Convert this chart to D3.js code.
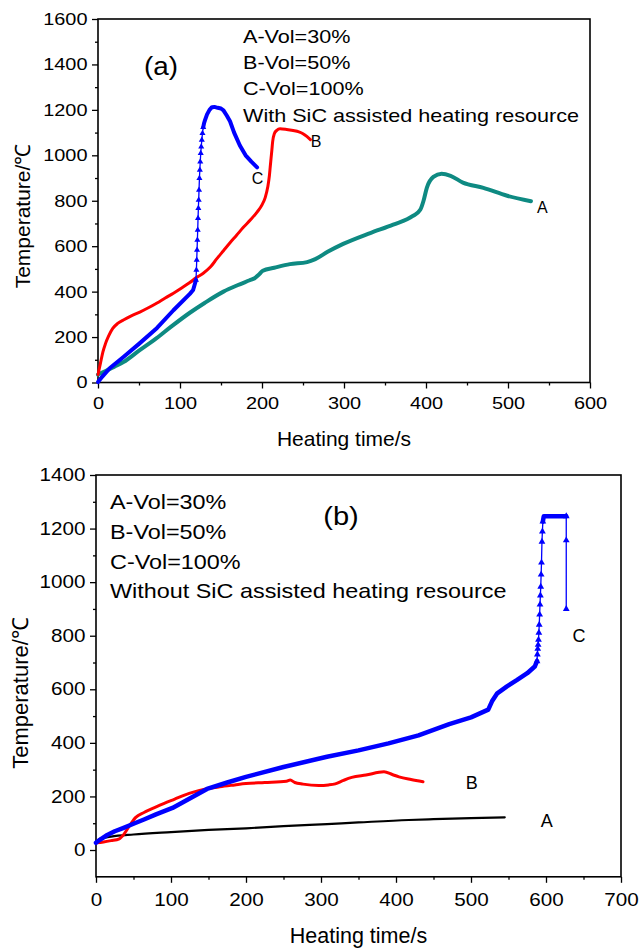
<!DOCTYPE html>
<html><head><meta charset="utf-8">
<script src="https://cdn.jsdelivr.net/npm/d3@7"></script>
<style>
body{margin:0;background:#fff}
svg text{font-family:"Liberation Sans",Arial,Helvetica,sans-serif;fill:#000}
</style>
</head><body>
<svg id="chart" width="641" height="950"></svg>
<script>
// ---------- data: panel (a) ----------
const aXTicks = [0,100,200,300,400,500,600];
const aYTicks = [0,200,400,600,800,1000,1200,1400,1600];
const aLegend = ["A-Vol=30%","B-Vol=50%","C-Vol=100%","With SiC assisted heating resource"];
const aSeriesA = [[0,35],[10,52],[20,70],[31,90],[50,140],[71,194],[90,248],[112,307],[130,350],[153,400],[170,428],[185,450],[191,459],[196,474],[201,492],[215,505],[234,521],[255,530],[265,543],[280,575],[299,610],[332,658],[360,695],[384,733],[393,760],[397,800],[401,857],[409,905],[419,919],[430,910],[445,880],[470,857],[499,822],[528,798]];
const aSeriesB = [[0,35],[3,85],[6,135],[9,170],[13,205],[18,238],[24,260],[31,275],[40,292],[51,310],[62,330],[72,350],[82,372],[92,393],[102,416],[112,440],[120,462],[128,480],[137,508],[145,545],[153,580],[161,615],[169,648],[177,682],[186,716],[194,750],[200,782],[204,815],[207,860],[209,910],[210,948],[211,985],[212,1022],[213,1060],[215,1095],[218,1110],[222,1117],[230,1114],[238,1109],[245,1103],[250,1095],[255,1082],[259,1069]];
const aSeriesC = [[0,2],[5,25],[14.6,64],[31,112],[50,170],[72,240],[92,318],[112,390],[116,407],[119.5,451],[120,495],[120.4,539],[120.8,583],[121.2,627],[121.6,671],[122,723],[122.4,767],[122.8,803],[123.2,847],[123.7,899],[124.2,935],[124.7,972],[125.3,1009],[125.9,1038],[126.6,1067],[127.4,1097],[128.3,1123],[129.3,1141],[130.5,1155],[133,1180],[136,1200],[139,1212],[142,1213],[146,1209],[150,1206],[153,1198],[157,1175],[161,1150],[166,1100],[173,1043],[180,1000],[187,972],[194,947]];

// ---------- data: panel (b) ----------
const bXTicks = [0,100,200,300,400,500,600,700];
const bYTicks = [0,200,400,600,800,1000,1200,1400];
const bLegend = ["A-Vol=30%","B-Vol=50%","C-Vol=100%","Without SiC assisted heating resource"];
const bSeriesA = [[5,42],[20,50],[50,58],[100,67],[150,75],[200,81],[250,89],[308,97],[350,103],[417,112],[450,115],[500,119],[545,122]];
const bSeriesB = [[0,27],[10,30],[20,35],[31,42],[38,62],[45,92],[53,122],[64,140],[78,158],[91,174],[105,190],[118,205],[131,217],[145,227],[165,236],[185,243],[200,248],[225,252],[254,257],[259,261],[265,252],[276,246],[297,241],[310,243],[319,247],[330,260],[341,271],[360,280],[384,292],[395,282],[404,273],[420,263],[436,255]];
const bSeriesC = [[0,27],[5,38],[15,56],[25,70],[36,82],[50,98],[64,114],[80,133],[102,157],[125,192],[148,228],[175,252],[200,273],[250,310],[308,348],[350,372],[390,398],[430,428],[471,470],[500,495],[523,524],[528,555],[535,585],[548,611],[561,634],[575,660],[585,685],[588,705],[588.5,730],[589,751],[589.5,766],[590,785],[590.5,811],[591,841],[591.5,879],[592,916],[592.5,950],[593,983],[593.5,1028],[594,1073],[594.6,1151],[595.2,1189],[595.8,1226],[597,1246],[627,1246],[627,1156],[627,900]];

const axisTitleX = "Heating time/s";
const axisTitleY = "Temperature/℃";

const svg = d3.select("#chart");

function stretchText(g, x, y, txt, size, sx, anchor) {
  return g.append("text")
    .attr("transform", `translate(${x},${y}) scale(${sx},1)`)
    .attr("font-size", size)
    .attr("text-anchor", anchor || "start")
    .text(txt);
}

function drawPanel(cfg) {
  const g = svg.append("g");
  const x = d3.scaleLinear().domain(cfg.xDomain).range([cfg.left, cfg.right]);
  const y = d3.scaleLinear().domain(cfg.yDomain).range([cfg.bottom, cfg.top]);

  // minor ticks
  const xMinor = d3.range(cfg.xDomain[0] + 50, cfg.xDomain[1], 100);
  const yMinor = d3.range(cfg.yMinorStart, cfg.yDomain[1], 200);
  g.append("g").attr("transform", `translate(0,${cfg.bottom})`)
    .call(d3.axisBottom(x).tickValues(xMinor).tickSize(3).tickFormat(""))
    .call(s => s.select(".domain").remove());
  g.append("g").attr("transform", `translate(${cfg.left},0)`)
    .call(d3.axisLeft(y).tickValues(yMinor).tickSize(3).tickFormat(""))
    .call(s => s.select(".domain").remove());

  // major ticks
  const gx = g.append("g").attr("transform", `translate(0,${cfg.bottom})`)
    .call(d3.axisBottom(x).tickValues(cfg.xTicks).tickSize(6).tickPadding(cfg.xPad).tickFormat(d3.format("d")));
  gx.select(".domain").remove();
  gx.selectAll("text").attr("font-size", cfg.tickFont).attr("transform", `scale(${cfg.tickSx},1)`)
    .attr("font-family", null);
  const gy = g.append("g").attr("transform", `translate(${cfg.left},0)`)
    .call(d3.axisLeft(y).tickValues(cfg.yTicks).tickSize(6).tickPadding(3).tickFormat(d3.format("d")));
  gy.select(".domain").remove();
  gy.selectAll("text").attr("font-size", cfg.tickFont).attr("transform", `scale(${cfg.tickSx},1)`)
    .attr("font-family", null);
  g.selectAll(".tick line").attr("stroke", "#000").attr("stroke-width", 1.3);

  // frame
  g.append("rect").attr("x", cfg.left).attr("y", cfg.top)
    .attr("width", cfg.right - cfg.left).attr("height", cfg.bottom - cfg.top)
    .attr("fill", "none").attr("stroke", "#000").attr("stroke-width", 1.6);

  const plot = g.append("g");
  const line = d3.line().x(d => x(d[0])).y(d => y(d[1]));
  const smooth = d3.line().x(d => x(d[0])).y(d => y(d[1])).curve(d3.curveMonotoneX);

  cfg.series.forEach(s => {
    if (!s.markers) {
      plot.append("path").datum(s.data).attr("d", smooth)
        .attr("fill", "none").attr("stroke", s.color).attr("stroke-width", s.width)
        .attr("stroke-linejoin", "round").attr("stroke-linecap", "round");
    } else {
      plot.append("path").datum(s.data).attr("d", line)
        .attr("fill", "none").attr("stroke", s.color).attr("stroke-width", 1.3)
        .attr("stroke-linejoin", "round");
      const runs = []; let cur = null; const markPts = new Set();
      for (let i = 0; i < s.data.length - 1; i++) {
        const a = s.data[i], b = s.data[i + 1];
        const dt = b[0] - a[0], dT = Math.abs(b[1] - a[1]);
        const rate = dt === 0 ? Infinity : dT / dt;
        if (rate < 20) {
          if (!cur) { cur = [a]; runs.push(cur); }
          cur.push(b);
        } else {
          cur = null; markPts.add(i); markPts.add(i + 1);
        }
      }
      runs.forEach(r => plot.append("path").datum(r).attr("d", line)
        .attr("fill", "none").attr("stroke", s.color).attr("stroke-width", s.width)
        .attr("stroke-linejoin", "round").attr("stroke-linecap", "round"));
      const sym = d3.symbol().type(d3.symbolTriangle).size(s.markSize);
      plot.selectAll(null).data([...markPts].map(i => s.data[i])).join("path")
        .attr("d", sym).attr("transform", d => `translate(${x(d[0])},${y(d[1])})`)
        .attr("fill", s.color);
    }
  });

  cfg.labels.forEach(l => {
    g.append("text").attr("x", x(l.t)).attr("y", y(l.v)).attr("text-anchor", "middle")
      .attr("font-size", cfg.labelFont).text(l.txt);
  });

  cfg.legend.forEach((txt, i) => {
    stretchText(g, cfg.legX, cfg.legY + i * cfg.legDy, txt, cfg.legFont, cfg.legSx, "start");
  });
  stretchText(g, cfg.tagX, cfg.tagY, cfg.tag, cfg.tagFont, cfg.tagSx, "middle");

  g.append("text").attr("x", (cfg.left + cfg.right) / 2).attr("y", cfg.xTitleY)
    .attr("text-anchor", "middle").attr("font-size", cfg.titleFont).text(axisTitleX);
  g.append("text").attr("transform", `translate(${cfg.yTitleX},${cfg.yTitleY}) rotate(-90)`)
    .attr("text-anchor", "middle").attr("font-size", cfg.titleFontY).text(axisTitleY);
}

drawPanel({
  xDomain: [0, 600], yDomain: [0, 1600], left: 98, right: 590, top: 19, bottom: 382.5,
  xTicks: aXTicks, yTicks: aYTicks, yMinorStart: 100, xPad: 8, tickFont: 17, tickSx: 1.17,
  series: [
    {data: aSeriesA, color: "#0e8a82", width: 4},
    {data: aSeriesB, color: "#ff0000", width: 3},
    {data: aSeriesC, color: "#0000ff", width: 4, markers: true, markSize: 16}
  ],
  labels: [{t: 194.5, v: 873, txt: "C"}, {t: 266, v: 1038, txt: "B"}, {t: 542, v: 745, txt: "A"}],
  labelFont: 16,
  legend: aLegend, legX: 243, legY: 42.7, legDy: 26.3, legFont: 18, legSx: 1.2,
  tag: "(a)", tagX: 161, tagY: 74.5, tagFont: 26, tagSx: 1.07,
  xTitleY: 446, titleFont: 21, yTitleX: 30, yTitleY: 216, titleFontY: 21
});

drawPanel({
  xDomain: [0, 700], yDomain: [-100, 1400], left: 96, right: 621, top: 475, bottom: 876.8,
  xTicks: bXTicks, yTicks: bYTicks, yMinorStart: 100, xPad: 11, tickFont: 17.5, tickSx: 1.18,
  series: [
    {data: bSeriesA, color: "#000000", width: 2.2},
    {data: bSeriesB, color: "#ff0000", width: 3},
    {data: bSeriesC, color: "#0000ff", width: 4.5, markers: true, markSize: 20}
  ],
  labels: [{t: 644, v: 777, txt: "C"}, {t: 501, v: 228, txt: "B"}, {t: 601, v: 86, txt: "A"}],
  labelFont: 18,
  legend: bLegend, legX: 110, legY: 509.3, legDy: 29.7, legFont: 20, legSx: 1.17,
  tag: "(b)", tagX: 341, tagY: 525, tagFont: 26, tagSx: 1.12,
  xTitleY: 943, titleFont: 21.5, yTitleX: 28, yTitleY: 693, titleFontY: 22
});
</script>
</body></html>
